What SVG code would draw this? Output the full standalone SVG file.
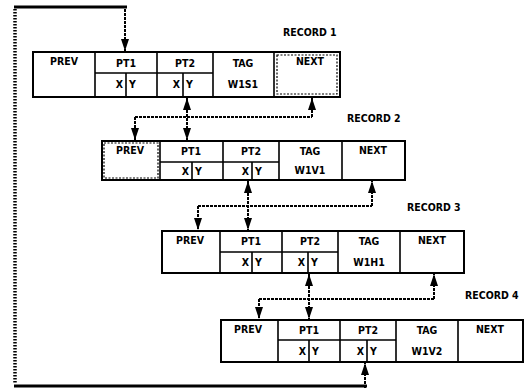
<svg xmlns="http://www.w3.org/2000/svg" width="528" height="392" viewBox="0 0 528 392">
<defs>
<style>
.box{fill:#fff;stroke:#000;stroke-width:2}
.ln{stroke:#000;stroke-width:1.6;fill:none}
.hl{stroke:#000;stroke-width:1.2;fill:none;stroke-dasharray:2 1.5}
.t{font-family:"DejaVu Sans Condensed","Liberation Sans Narrow","Liberation Sans",sans-serif;font-weight:bold;font-size:10.5px;fill:#000;text-anchor:middle}
.xr{text-anchor:end}
.ys{text-anchor:start}
.lbl{font-family:"DejaVu Sans Condensed","Liberation Sans Narrow","Liberation Sans",sans-serif;font-weight:bold;font-size:10.5px;fill:#000}
.c{stroke:#000;stroke-width:2;fill:none;stroke-dasharray:3 1}
.lv{stroke:#000;stroke-width:3.5;fill:none;stroke-dasharray:1.5 1.5}
.dbl{stroke:#000;stroke-width:3;fill:none}
</style>
<marker id="ah" viewBox="0 0 12 8" refX="12" refY="4" markerWidth="12" markerHeight="8" markerUnits="userSpaceOnUse" orient="auto-start-reverse">
<path d="M0,0 L12,4 L0,8 z" fill="#000"/>
</marker>
</defs>

<g id="record1">
<rect class="box" x="33" y="52" width="307" height="45"/>
<path class="ln" d="M95,52V97M157,52V97M213,52V97M274,52V97M95,73H213M126,73V97M183,73V97"/>
<rect class="hl" x="277" y="55" width="60" height="39"/>
<text class="t" x="64" y="65">PREV</text>
<text class="t" x="126" y="67">PT1</text>
<text class="t" x="185" y="67">PT2</text>
<text class="t" x="243" y="67">TAG</text>
<text class="t" x="243" y="88">W1S1</text>
<text class="t" x="310" y="65">NEXT</text>
<text class="t xr" x="123" y="88">X</text><text class="t ys" x="129" y="88">Y</text>
<text class="t xr" x="180" y="88">X</text><text class="t ys" x="186" y="88">Y</text>
<text class="lbl" x="283" y="36">RECORD 1</text>
</g>

<g id="record2">
<rect class="box" x="102" y="141" width="303" height="39"/>
<path class="ln" d="M160,141V180M223,141V180M279,141V180M342,141V180M160,162H279M192,162V180M252,162V180"/>
<rect class="hl" x="104" y="143" width="54" height="35"/>
<text class="t" x="130" y="154">PREV</text>
<text class="t" x="191" y="155">PT1</text>
<text class="t" x="251" y="155">PT2</text>
<text class="t" x="310" y="155">TAG</text>
<text class="t" x="310" y="174">W1V1</text>
<text class="t" x="373" y="154">NEXT</text>
<text class="t xr" x="189" y="175">X</text><text class="t ys" x="195" y="175">Y</text>
<text class="t xr" x="249" y="175">X</text><text class="t ys" x="255" y="175">Y</text>
<text class="lbl" x="347" y="122">RECORD 2</text>
</g>

<g id="record3">
<rect class="box" x="162" y="231" width="302" height="42"/>
<path class="ln" d="M220,231V273M282,231V273M338,231V273M400,231V273M220,252H338M252,252V273M308,252V273"/>
<text class="t" x="190" y="244">PREV</text>
<text class="t" x="251" y="245">PT1</text>
<text class="t" x="310" y="245">PT2</text>
<text class="t" x="369" y="245">TAG</text>
<text class="t" x="369" y="266">W1H1</text>
<text class="t" x="432" y="244">NEXT</text>
<text class="t xr" x="249" y="266">X</text><text class="t ys" x="255" y="266">Y</text>
<text class="t xr" x="305" y="266">X</text><text class="t ys" x="311" y="266">Y</text>
<text class="lbl" x="407" y="211">RECORD 3</text>
</g>

<g id="record4">
<rect class="box" x="221" y="320" width="302" height="42"/>
<path class="ln" d="M278,320V362M340,320V362M396,320V362M458,320V362M278,340H396M309,340V362M367,340V362"/>
<text class="t" x="248" y="333">PREV</text>
<text class="t" x="309" y="334">PT1</text>
<text class="t" x="368" y="334">PT2</text>
<text class="t" x="427" y="334">TAG</text>
<text class="t" x="427" y="355">W1V2</text>
<text class="t" x="490" y="333">NEXT</text>
<text class="t xr" x="306" y="355">X</text><text class="t ys" x="312" y="355">Y</text>
<text class="t xr" x="364" y="355">X</text><text class="t ys" x="370" y="355">Y</text>
<text class="lbl" x="465" y="299">RECORD 4</text>
</g>

<g id="connectors">
<path class="dbl" d="M14,7H127"/>
<path class="lv" d="M15,9V384"/>
<path class="c" d="M125,9V51" marker-end="url(#ah)"/>
<path class="dbl" d="M14,386H367"/>
<path class="c" d="M365,388V363" marker-end="url(#ah)"/>
<path class="c" d="M135,117H312"/>
<path class="c" d="M135,117V140" marker-end="url(#ah)"/>
<path class="c" d="M312,117V98" marker-end="url(#ah)"/>
<path class="c" d="M187,98V140" marker-start="url(#ah)" marker-end="url(#ah)"/>
<path class="c" d="M198,206H372"/>
<path class="c" d="M198,206V230" marker-end="url(#ah)"/>
<path class="c" d="M372,206V181" marker-end="url(#ah)"/>
<path class="c" d="M248,181V230" marker-start="url(#ah)" marker-end="url(#ah)"/>
<path class="c" d="M259,299H434"/>
<path class="c" d="M259,299V319" marker-end="url(#ah)"/>
<path class="c" d="M434,299V274" marker-end="url(#ah)"/>
<path class="c" d="M309,274V319" marker-start="url(#ah)" marker-end="url(#ah)"/>
</g>
</svg>
